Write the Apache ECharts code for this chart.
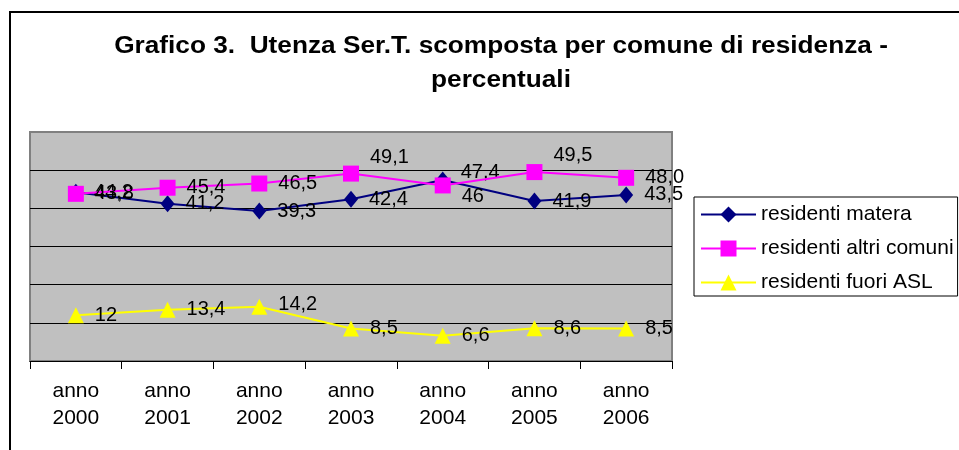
<!DOCTYPE html>
<html>
<head>
<meta charset="utf-8">
<script src="https://cdn.jsdelivr.net/npm/echarts@6/dist/echarts.min.js"></script>
<style>
html,body{margin:0;padding:0;background:#fff;}
#c{width:959px;height:450px;}
</style>
</head>
<body>
<div id="c"></div>
<script>
var categories = ['anno\n2000','anno\n2001','anno\n2002','anno\n2003','anno\n2004','anno\n2005','anno\n2006'];
var seriesNames = ['residenti matera','residenti altri comuni','residenti fuori ASL'];
var materaValues = [44.2, 41.2, 39.3, 42.4, 47.4, 41.9, 43.5];
var materaLabels = ['44,2','41,2','39,3','42,4','47,4','41,9','43,5'];
var altriValues = [43.8, 45.4, 46.5, 49.1, 46, 49.5, 48.0];
var altriLabels = ['43,8','45,4','46,5','49,1','46','49,5','48,0'];
var fuoriValues = [12, 13.4, 14.2, 8.5, 6.6, 8.6, 8.5];
var fuoriLabels = ['12','13,4','14,2','8,5','6,6','8,6','8,5'];
var yTicks = {min: 0, max: 60, interval: 10};

// label nudges (style only)
var materaOffsets = {4: [0, -8]};
var altriOffsets = {3: [0, -16], 4: [0, 11], 5: [0, -17]};
var fuoriOffsets = {2: [0, -2]};

function buildData(values, labels, offsets) {
  return values.map(function (v, i) {
    var item = {value: v, label: {formatter: labels[i]}};
    if (offsets[i]) item.label.offset = offsets[i];
    return item;
  });
}

var FONT = 'Liberation Sans, Arial, sans-serif';
var labelStyle = {show: true, position: 'right', distance: 11, fontSize: 20, color: '#000', fontFamily: FONT};

var chart = echarts.init(document.getElementById('c'), null, {renderer: 'canvas'});
chart.setOption({
  animation: false,
  backgroundColor: '#fff',
  graphic: [
    {type: 'rect', shape: {x: 10, y: 12, width: 1100, height: 1100}, style: {fill: 'none', stroke: '#000', lineWidth: 2}, z: 100},
    {type: 'text', x: 501, y: 30, scaleX: 1.14, style: {text: 'Grafico 3.  Utenza Ser.T. scomposta per comune di residenza -\npercentuali', textAlign: 'center', fontSize: 23, fontWeight: 'bold', lineHeight: 34, fill: '#000', fontFamily: FONT}}
  ],
  grid: {left: 30, right: 287, top: 132, bottom: 89, show: true, backgroundColor: '#C0C0C0', borderColor: '#808080', borderWidth: 2},
  legend: {
    orient: 'vertical', left: 694, top: 197,
    padding: [7, 4, 3, 6], itemGap: 13, itemWidth: 55, itemHeight: 20,
    borderColor: '#000', borderWidth: 1, backgroundColor: '#fff',
    textStyle: {fontSize: 21, color: '#000', fontFamily: FONT},
    data: seriesNames
  },
  xAxis: {
    type: 'category', data: categories, boundaryGap: true,
    axisLine: {lineStyle: {color: '#000', width: 1}},
    axisTick: {show: true, length: 8, lineStyle: {color: '#000'}},
    axisLabel: {fontSize: 21, lineHeight: 27, color: '#000', margin: 17, fontFamily: FONT, interval: 0},
    splitLine: {show: false}
  },
  yAxis: {
    type: 'value', min: yTicks.min, max: yTicks.max, interval: yTicks.interval,
    axisLine: {show: false}, axisTick: {show: false}, axisLabel: {show: false},
    splitLine: {show: true, lineStyle: {color: ['#000','#000','#000','#000','#000','#000','#808080'], width: 1}}
  },
  series: [
    {name: seriesNames[0], type: 'line', data: buildData(materaValues, materaLabels, materaOffsets),
     symbol: 'diamond', symbolSize: [14, 17], color: '#000080', lineStyle: {width: 2, color: '#000080'},
     itemStyle: {color: '#000080'}, label: labelStyle, z: 3},
    {name: seriesNames[1], type: 'line', data: buildData(altriValues, altriLabels, altriOffsets),
     symbol: 'rect', symbolSize: 16, color: '#FF00FF', lineStyle: {width: 2, color: '#FF00FF'},
     itemStyle: {color: '#FF00FF'}, label: labelStyle, z: 4},
    {name: seriesNames[2], type: 'line', data: buildData(fuoriValues, fuoriLabels, fuoriOffsets),
     symbol: 'triangle', symbolSize: [16, 16], color: '#FFFF00', lineStyle: {width: 2, color: '#FFFF00'},
     itemStyle: {color: '#FFFF00'}, label: labelStyle, z: 3}
  ]
});
</script>
</body>
</html>
